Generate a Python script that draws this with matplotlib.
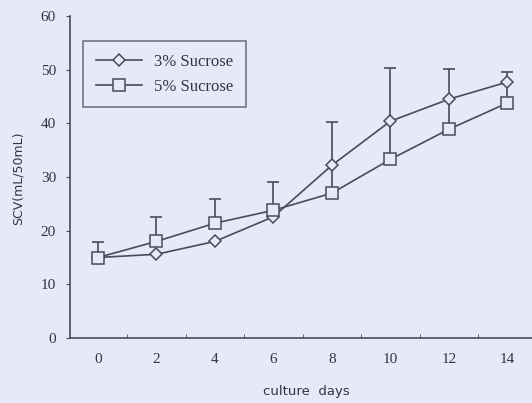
import matplotlib
matplotlib.use("Agg")
import matplotlib.pyplot as plt

days = [0, 2, 4, 6, 8, 10, 12, 14]
suc3 = [15.0, 15.6, 18.0, 22.6, 32.2, 40.4, 44.5, 47.7]
suc5 = [15.0, 18.0, 21.4, 23.8, 27.0, 33.3, 38.9, 43.8]
# error bars (upper / lower)
suc3_err_up = [0, 0, 0, 0, 8.0, 9.9, 5.6, 1.8]
suc3_err_lo = [0, 0, 0, 0, 5.2, 7.1, 5.6, 3.9]
suc5_err_up = [2.9, 4.5, 4.5, 5.2, 0, 0, 0, 0]
suc5_err_lo = [0, 0, 0, 0, 0, 0, 0, 0]
labels = ["3% Sucrose", "5% Sucrose"]
yticks = [0, 10, 20, 30, 40, 50, 60]
xticks = [0, 2, 4, 6, 8, 10, 12, 14]
xminor = [1, 3, 5, 7, 9, 11, 13]

bg = "#e6e9f6"
ink = "#4a4a5c"
txt = "#333344"

fig = plt.figure(figsize=(5.32, 4.03), dpi=100, facecolor=bg)
ax = fig.add_axes([70/532, 65/403, 462/532, (338-16)/403])
ax.set_facecolor(bg)

ax.errorbar(days, suc3, yerr=[suc3_err_lo, suc3_err_up], fmt="none",
            ecolor=ink, elinewidth=1.2, capsize=4, capthick=1.2, zorder=2)
ax.errorbar(days, suc5, yerr=[suc5_err_lo, suc5_err_up], fmt="none",
            ecolor=ink, elinewidth=1.2, capsize=4, capthick=1.2, zorder=2)
ax.plot(days, suc3, color=ink, lw=1.2, marker="D", ms=6.5,
        mfc=bg, mec=ink, mew=1.1, label=labels[0], zorder=3)
ax.plot(days, suc5, color=ink, lw=1.2, marker="s", ms=8,
        mfc=bg, mec=ink, mew=1.1, label=labels[1], zorder=3)

ax.set_xlim(-0.957, 14.84)
ax.set_ylim(0, 60)
ax.set_xticks(xticks)
ax.set_xticks(xminor, minor=True)
ax.set_yticks(yticks)
for s in ["top", "right"]:
    ax.spines[s].set_visible(False)
for s in ["left", "bottom"]:
    ax.spines[s].set_color(ink)
    ax.spines[s].set_linewidth(1.2)

ax.tick_params(axis="x", which="major", length=0, pad=11, labelsize=11, colors=txt)
ax.tick_params(axis="x", which="minor", length=3, direction="in", color=ink)
ax.tick_params(axis="y", which="major", length=3, direction="out", color=ink,
               pad=7, labelsize=11, labelcolor=txt)
for lab in ax.get_xticklabels() + ax.get_yticklabels():
    lab.set_family("Liberation Serif")

fig.text(18/532, 1 - 178/403, "SCV(mL/50mL)", rotation=90, ha="center", va="center",
         fontsize=9, color=txt, family="DejaVu Sans")
fig.text(306/532, 1 - 392/403, "culture  days", ha="center", va="center",
         fontsize=9.5, color=txt, family="DejaVu Sans")

leg = ax.legend(loc="upper left", bbox_to_anchor=(83/532, 1 - 41/403),
                bbox_transform=fig.transFigure, frameon=True, fancybox=False,
                prop={"family": "Liberation Serif", "size": 12},
                handlelength=2.8, borderpad=0.75, labelspacing=0.55,
                handletextpad=0.7, borderaxespad=0)
leg.get_frame().set_edgecolor(ink)
leg.get_frame().set_linewidth(1.1)
leg.get_frame().set_facecolor(bg)
for t in leg.get_texts():
    t.set_color(txt)

fig.savefig("out.png", dpi=100, facecolor=bg)
